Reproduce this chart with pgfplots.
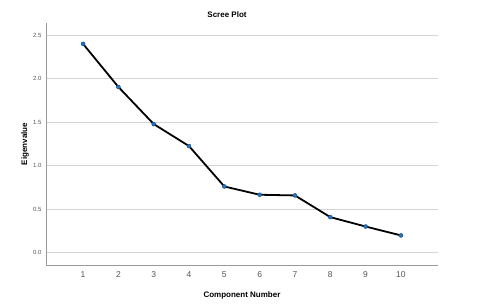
\documentclass[border=0pt]{standalone}
\usepackage{pgfplots}
\pgfplotsset{compat=1.18}
\usepackage{fontspec}
\setmainfont{Liberation Sans}
\definecolor{gridc}{HTML}{D4D4D4}
\definecolor{axc}{HTML}{9A9A9A}
\definecolor{tickc}{HTML}{555555}
\definecolor{mkc}{HTML}{1F77C4}
\begin{document}
\begin{tikzpicture}
\path[use as bounding box] (-46pt,-43pt) rectangle (434pt,265pt);
\begin{axis}[
  scale only axis,
  width=392pt, height=242pt,
  xmin=-0.05, xmax=11.05,
  ymin=-0.14, ymax=2.64,
  axis x line*=bottom, axis y line*=left,
  axis line style={axc, line width=0.8pt},
  xtick={1,...,10},
  ytick={0,0.5,1,1.5,2,2.5},
  major tick length=0pt,
  ymajorgrids,
  grid style={gridc, line width=1pt},
  /pgf/number format/assume math mode=true,
  yticklabel style={font=\fontsize{6}{7}\selectfont, text=tickc, xshift=-1pt,
    /pgf/number format/fixed, /pgf/number format/fixed zerofill, /pgf/number format/precision=1},
  xticklabel style={font=\fontsize{8.5}{10}\selectfont, text=tickc, yshift=-3pt},
  clip=false,
]
\addplot[black, line width=1.8pt, mark=*, mark size=2pt,
  mark options={fill=mkc, draw=mkc!60!black, line width=0.4pt}]
  coordinates {(1,2.40) (2,1.905) (3,1.479) (4,1.226) (5,0.762) (6,0.667) (7,0.659) (8,0.41) (9,0.302) (10,0.20)};
\end{axis}
\node[font=\bfseries\fontsize{8}{9}\selectfont] at (181pt,250pt) {Scree Plot};
\node[font=\bfseries\fontsize{8}{9}\selectfont] at (196pt,-30pt) {Component Number};
\node[font=\bfseries\fontsize{8}{9}\selectfont, rotate=90] at (-21pt,121pt) {Eigenvalue};
\end{tikzpicture}
\end{document}
